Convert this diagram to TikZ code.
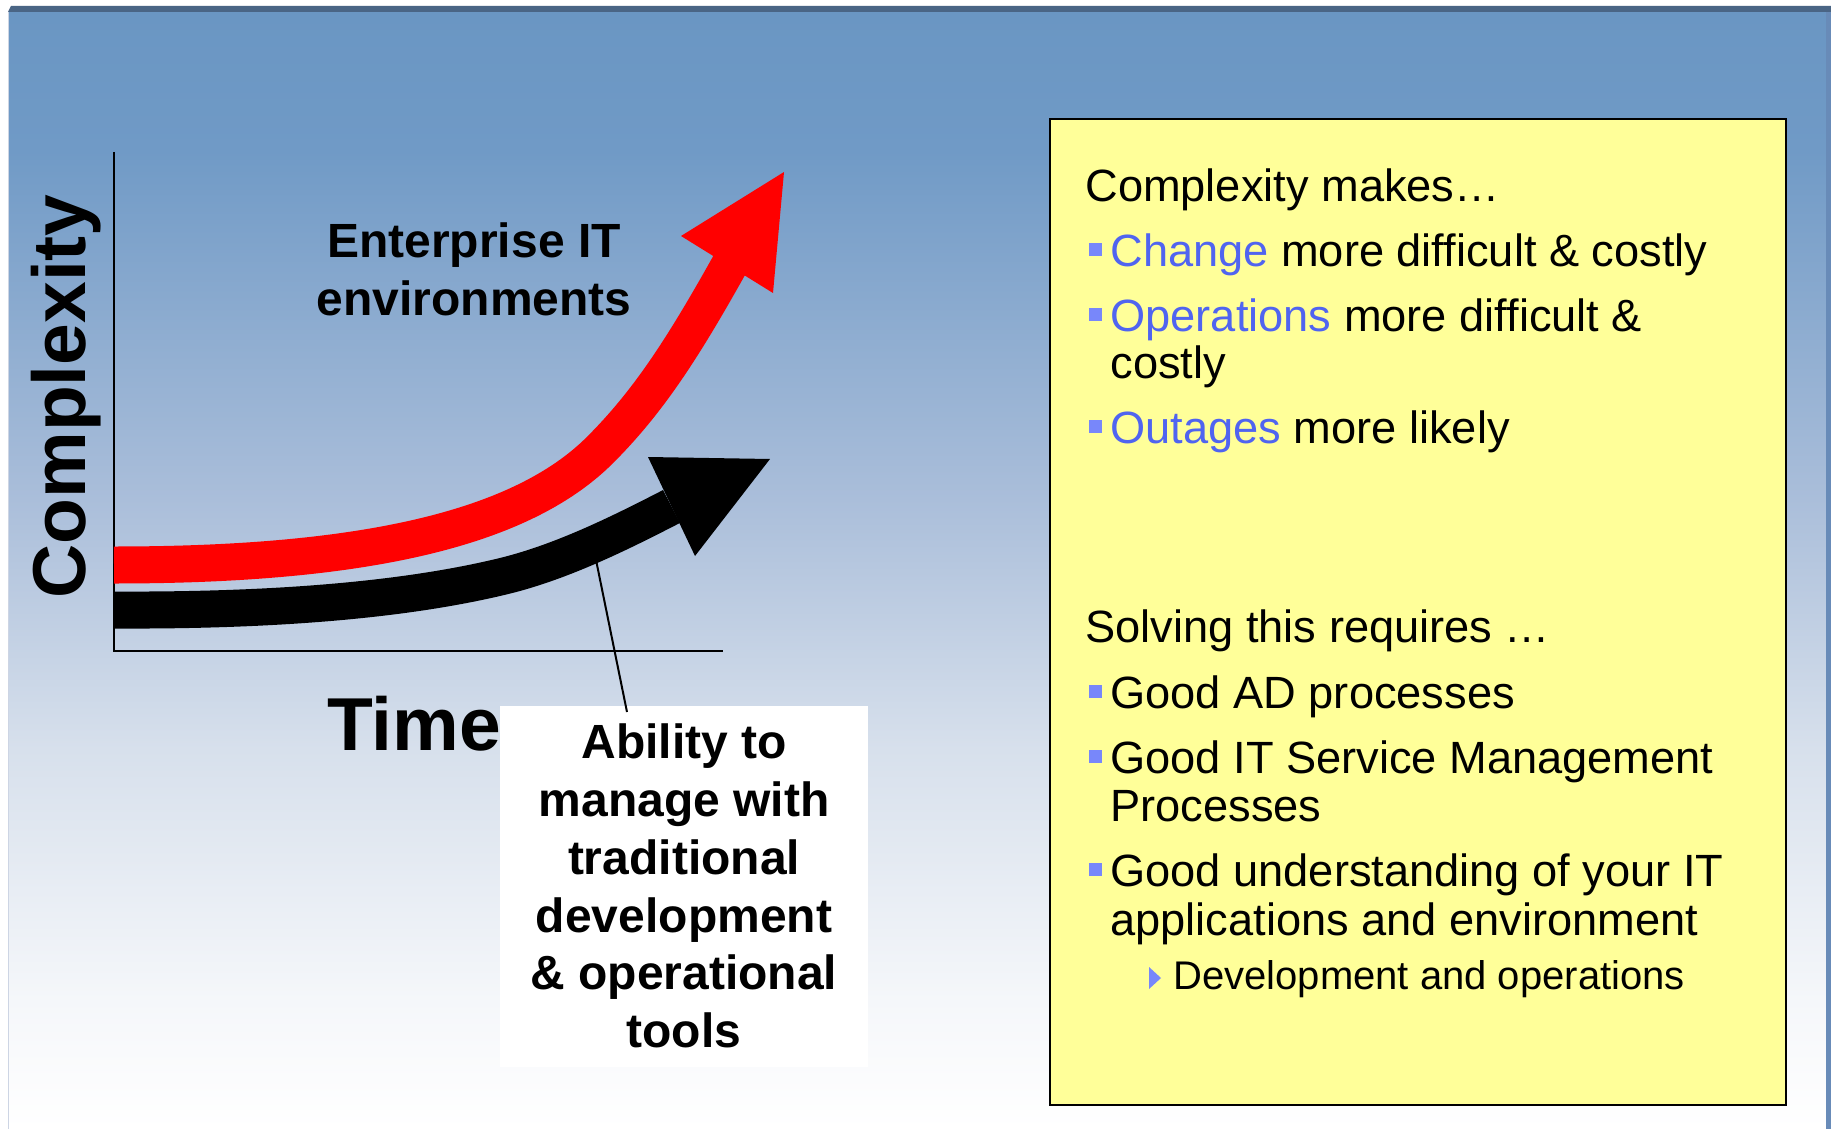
\documentclass[tikz,border=0pt]{standalone}
\usepackage{fontspec}
\setmainfont{Liberation Sans}
\definecolor{bgA}{RGB}{106,150,195}
\definecolor{bgB}{RGB}{112,154,198}
\definecolor{bgC}{RGB}{170,190,218}
\definecolor{bgD}{RGB}{215,224,236}
\definecolor{bgE}{RGB}{245,247,250}
\definecolor{bandcol}{RGB}{74,101,133}
\definecolor{stripcol}{RGB}{104,139,184}
\definecolor{edgecol}{RGB}{205,213,228}
\definecolor{noteyellow}{RGB}{255,255,153}
\definecolor{hiblue}{RGB}{80,100,240}
\definecolor{bulletblue}{RGB}{120,135,250}
\definecolor{arrowred}{RGB}{255,0,0}
\pgfdeclareverticalshading{panelbg}{100bp}{color(0bp)=(white); color(25bp)=(white); color(30.8bp)=(bgE); color(42bp)=(bgD); color(53.2bp)=(bgC); color(68.8bp)=(bgB); color(75bp)=(bgA); color(100bp)=(bgA)}
\begin{document}
\begin{tikzpicture}[x=0.5pt,y=-0.5pt,
  bigbold/.style={font=\fontsize{37.5}{45}\selectfont\bfseries, inner sep=0pt},
  midbold/.style={font=\fontsize{24}{28.9}\selectfont\bfseries, align=center, inner sep=0pt},
  notetxt/.style={font=\fontsize{22.6}{27}\selectfont, anchor=base west, inner sep=0pt},
  subtxt/.style={font=\fontsize{20}{24}\selectfont, anchor=base west, inner sep=0pt},
  bulletsq/.style={fill=bulletblue},
  shaft/.style={line width=18.5pt, line cap=butt},
  axisline/.style={line width=1pt, black},
  thinline/.style={line width=1pt, black}]
\useasboundingbox (0,0) rectangle (1831,1129);
% background panel
\fill[white] (0,0) rectangle (1831,1129);
\shade[shading=panelbg] (9,12) rectangle (1826,1129);
\fill[bandcol] (8,12) -- (11,6) -- (1831,6) -- (1831,12) -- cycle;
\fill[stripcol] (1826,12) rectangle (1831,1129);
\draw[edgecol, line width=0.6pt] (8.6,12) -- (8.6,1129);
% axes
\draw[axisline] (114,152) -- (114,651) -- (723,651);
% red arrow
\draw[shaft, arrowred] (114,565) .. controls (360,565) and (520,530) .. (600,450)
   .. controls (650,400) and (685,345) .. (735,255);
\fill[arrowred] (681,236) -- (784,172) -- (773,293) -- cycle;
% black arrow
\draw[shaft, black] (114,610) .. controls (300,611) and (420,596) .. (500,577)
   .. controls (560,563) and (620,533) .. (671.5,506.5);
\fill[black] (648,457) -- (770,459) -- (695,556) -- cycle;
% labels
\node[bigbold, rotate=90, anchor=base west] (ylabel) at (85,599) {Complexity};
\node[bigbold, anchor=base west] (xlabel) at (327,750) {Time};
\node[midbold] (enterprise) at (474,269) {Enterprise IT\\environments};
\node[midbold, fill=white, minimum width=184pt, minimum height=180.5pt] (ability) at (684,886)
  {Ability to\\manage with\\traditional\\development\\\& operational\\tools};
\coordinate (ptrtop) at (594,550);
\coordinate (ptrend) at (627,712);
\draw[thinline] (ptrtop) -- (ptrend);
% note box
\node[draw=black, line width=1.25pt, fill=noteyellow, minimum width=368pt, minimum height=493pt, inner sep=0pt] (note) at (1418,612) {};
\node[notetxt] (h1) at (1085,201) {Complexity makes…};
\node[notetxt] (b1) at (1110,266) {\textcolor{hiblue}{Change} more difficult \& costly};
\node[notetxt] (b2) at (1110,331) {\textcolor{hiblue}{Operations} more difficult \&};
\node[notetxt] (b2b) at (1110,378) {costly};
\node[notetxt] (b3) at (1110,443) {\textcolor{hiblue}{Outages} more likely};
\node[notetxt] (h2) at (1085,642) {Solving this requires …};
\node[notetxt] (c1) at (1110,708) {Good AD processes};
\node[notetxt] (c2) at (1110,773) {Good IT Service Management};
\node[notetxt] (c2b) at (1110,821) {Processes};
\node[notetxt] (c3) at (1110,886) {Good understanding of your IT};
\node[notetxt] (c3b) at (1110,935) {applications and environment};
\node[subtxt] (d1) at (1173,989) {Development and operations};
\foreach \b in {266,331,443,708,773,886}
  \fill[bulletsq] (1089,\b-23) rectangle (1102,\b-10);
\fill[bulletblue] (1149,967) -- (1161,978) -- (1149,989) -- cycle;
\end{tikzpicture}
\end{document}
